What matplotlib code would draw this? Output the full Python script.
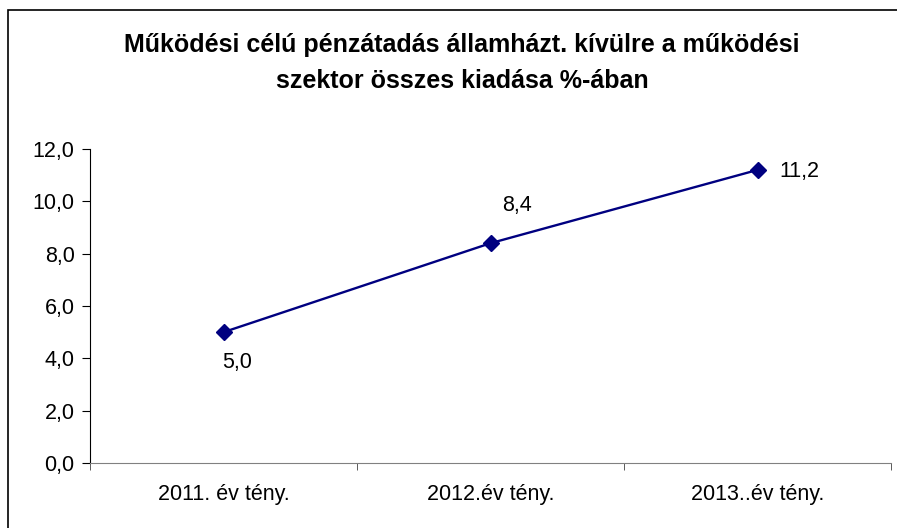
import matplotlib
matplotlib.use("Agg")
import matplotlib.pyplot as plt
from matplotlib.patches import Rectangle
from matplotlib.ticker import FuncFormatter

plt.rcParams['font.family'] = ['Liberation Sans', 'DejaVu Sans']

categories = ["2011. év tény.", "2012.év tény.", "2013..év tény."]
values = [5.0, 8.4, 11.2]
labels = ["5,0", "8,4", "11,2"]
label_offsets = [(10, -22), (19, 27), (30, -1)]  # points

fig = plt.figure(figsize=(8.97, 5.28), dpi=100)
# outer chart frame (right/bottom edges fall outside the picture)
fig.patches.append(Rectangle((8 / 897, -0.1), 1.2, 1 - 10 / 528 + 0.1,
                             transform=fig.transFigure, fill=False,
                             edgecolor="black", linewidth=1.2))

ax = fig.add_axes([90 / 897, 1 - 463 / 528, 801 / 897, 314 / 528])
xs = [i + 0.5 for i in range(len(categories))]
ax.plot(xs, values, color="#000080", linewidth=1.7, marker="D",
        markersize=8, markerfacecolor="#000080", markeredgecolor="#000080")

for x, v, lab, off in zip(xs, values, labels, label_offsets):
    ax.annotate(lab, (x, v), xytext=off, textcoords="offset points",
                ha="center", va="center", fontsize=15.5)

ax.set_xlim(0, 3)
ax.set_ylim(0, 12)
ax.set_yticks(range(0, 13, 2))
ax.yaxis.set_major_formatter(FuncFormatter(lambda v, p: f"{v:.1f}".replace(".", ",")))
ax.set_xticks(xs)
ax.set_xticklabels(categories)
ax.set_xticks([0, 1, 2, 3], minor=True)
ax.tick_params(axis="x", which="major", length=0, pad=15, labelsize=15.5)
ax.tick_params(axis="x", which="minor", length=5, color="#404040")
ax.tick_params(axis="y", length=6, labelsize=15.5, pad=5)

for s in ["top", "right"]:
    ax.spines[s].set_visible(False)
ax.spines["bottom"].set_color("#808080")
ax.spines["left"].set_color("black")

fig.text(462 / 897, 1 - 63 / 528,
         "Működési célú pénzátadás államházt. kívülre a működési\nszektor összes kiadása %-ában",
         ha="center", va="center", fontsize=18, fontweight="bold", linespacing=1.6)

fig.savefig("out.png", dpi=100)
